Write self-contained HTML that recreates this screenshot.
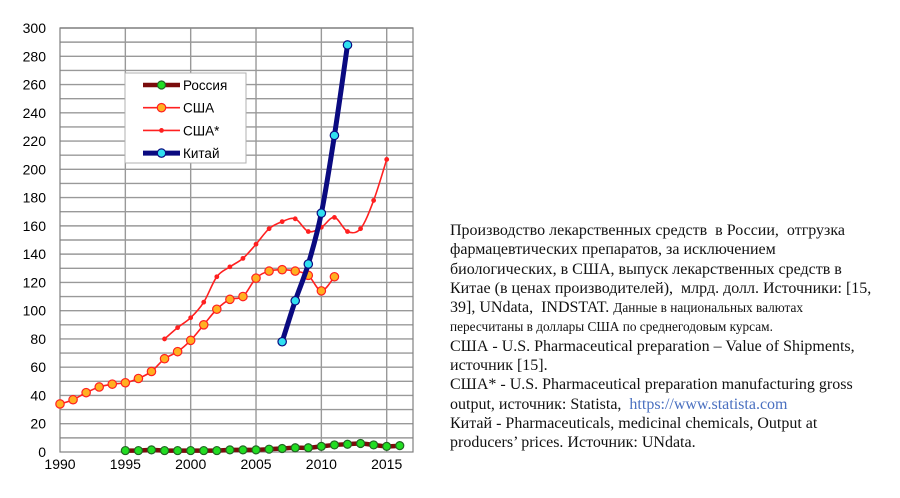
<!DOCTYPE html>
<html><head><meta charset="utf-8"><style>
body{margin:0;width:900px;height:498px;background:#fff;overflow:hidden;position:relative}
svg{position:absolute;left:0;top:0}
#note{position:absolute;left:450px;top:221px;width:450px;font-family:"Liberation Serif",serif;font-size:16px;line-height:19.3px;color:#111;white-space:nowrap}
#note .sm{font-size:13.3px}
#note a{color:#4a70c0;text-decoration:none}
</style></head><body>
<svg id="chart" width="900" height="498"></svg>
<div id="note">Производство лекарственных средств&nbsp; в России,&nbsp; отгрузка<br>фармацевтических препаратов, за исключением<br>биологических, в США, выпуск лекарственных средств в<br>Китае (в ценах производителей),&nbsp; млрд. долл. Источники: [15,<br>39], UNdata,&nbsp; INDSTAT. <span class="sm">Данные в национальных валютах</span><br><span class="sm">пересчитаны в доллары США по среднегодовым курсам.</span><br>США - U.S. Pharmaceutical preparation – Value of Shipments,<br>источник [15].<br>США* - U.S. Pharmaceutical preparation manufacturing gross<br>output, источник: Statista,&nbsp; <a>https://www.statista.com</a><br>Китай - Pharmaceuticals, medicinal chemicals, Output at<br>producers’ prices. Источник: UNdata.</div>
<script>
const xTicks=[1990,1995,2000,2005,2010,2015];
const yTicks=[0,20,40,60,80,100,120,140,160,180,200,220,240,260,280,300];
const usaYears=[1990,1991,1992,1993,1994,1995,1996,1997,1998,1999,2000,2001,2002,2003,2004,2005,2006,2007,2008,2009,2010,2011];
const usaVals=[34,37,42,46,48,49,52,57,66,71,79,90,101,108,110,123,128,129,128,125,114,124];
const usa2Years=[1998,1999,2000,2001,2002,2003,2004,2005,2006,2007,2008,2009,2010,2011,2012,2013,2014,2015];
const usa2Vals=[80,88,95,106,124,131,137,147,158,163,165,156,159,166,156,158,178,207];
const chinaYears=[2007,2008,2009,2010,2011,2012];
const chinaVals=[78,107,133,169,224,288];
const rusYears=[1995,1996,1997,1998,1999,2000,2001,2002,2003,2004,2005,2006,2007,2008,2009,2010,2011,2012,2013,2014,2015,2016];
const rusVals=[1,1,1.5,1,1,1,1,1,1.5,1.5,1.5,2,2.5,3,3,4,5,5.5,6,5,4,4.5];

const svg=document.getElementById('chart');const NS='http://www.w3.org/2000/svg';
const L=60,R=413,T=28,B=452;
const x=y=>L+(y-1990)*(386.7-L)/25;
const yv=v=>B-v*(B-T)/300;
function mk(tag,attrs,parent){const e=document.createElementNS(NS,tag);for(const k in attrs)e.setAttribute(k,attrs[k]);(parent||svg).appendChild(e);return e;}
for(let v=10;v<=300;v+=10){const g=mk('line',{x1:L,x2:R,y1:yv(v),y2:yv(v),stroke:'#999','stroke-width':1.4});

}
for(const t of xTicks){if(t===1990)continue;const g=mk('line',{x1:x(t),x2:x(t),y1:T,y2:B,stroke:'#999','stroke-width':1.4});

}
const fr=mk('rect',{x:L,y:T,width:R-L,height:B-T,fill:'none',stroke:'#808080','stroke-width':1.2});


for(const t of yTicks){const tx=mk('text',{x:L-14,y:yv(t)+5,'text-anchor':'end','font-family':'Liberation Sans, sans-serif','font-size':14,fill:'#000'});tx.textContent=t;

}
for(const t of xTicks){const tx=mk('text',{x:x(t),y:469,'text-anchor':'middle','font-family':'Liberation Sans, sans-serif','font-size':14,fill:'#000'});tx.textContent=t;

}
function smooth(pts){let d='M'+pts[0][0]+','+pts[0][1];for(let i=0;i<pts.length-1;i++){const p0=pts[i-1]||pts[i],p1=pts[i],p2=pts[i+1],p3=pts[i+2]||p2;const k=1/6;d+=` C${p1[0]+(p2[0]-p0[0])*k},${p1[1]+(p2[1]-p0[1])*k} ${p2[0]-(p3[0]-p1[0])*k},${p2[1]-(p3[1]-p1[1])*k} ${p2[0]},${p2[1]}`;}return d;}
function series(name,years,vals,color,w,mfill,mr,mstroke){
const pts=years.map((yr,i)=>[x(yr),yv(vals[i])]);
const p=mk('path',{d:smooth(pts),fill:'none',stroke:color,'stroke-width':w,'stroke-linejoin':'round'});


pts.forEach(q=>{const c=mk('circle',{cx:q[0],cy:q[1],r:mr,fill:mfill,stroke:mstroke,'stroke-width':1.2});

});}
series('russia',rusYears,rusVals,'#7a0c0c',4.5,'#22dd22',4,'#226622');
series('usa',usaYears,usaVals,'#ff2020',1.6,'#ffb020',4.2,'#ff2020');
series('usa-star',usa2Years,usa2Vals,'#ff2020',1.6,'#ff2020',1.8,'#ff2020');
series('china',chinaYears,chinaVals,'#0a0a80',5,'#30e0f0',4.2,'#0a0a80');
const lg=mk('g',{});
mk('rect',{x:125,y:73,width:121,height:90,fill:'#fff',stroke:'#b0b0b0','stroke-width':1},lg);
const items=[['Россия','#7a0c0c',4.5,'#22dd22',4,'#226622'],['США','#ff2020',1.6,'#ffb020',4.2,'#ff2020'],['США*','#ff2020',1.6,'#ff2020',1.8,'#ff2020'],['Китай','#0a0a80',5,'#30e0f0',4.2,'#0a0a80']];
items.forEach((it,i)=>{const cy=85+i*22.7;
const g=mk('g',{},lg);
mk('line',{x1:143,x2:180,y1:cy,y2:cy,stroke:it[1],'stroke-width':it[2]},g);
mk('circle',{cx:161.5,cy:cy,r:it[4],fill:it[3],stroke:it[5],'stroke-width':1.2},g);
const t=mk('text',{x:183,y:cy+5,'font-family':'Liberation Sans, sans-serif','font-size':13.5,fill:'#000'},g);t.textContent=it[0];});
</script>
</body></html>
